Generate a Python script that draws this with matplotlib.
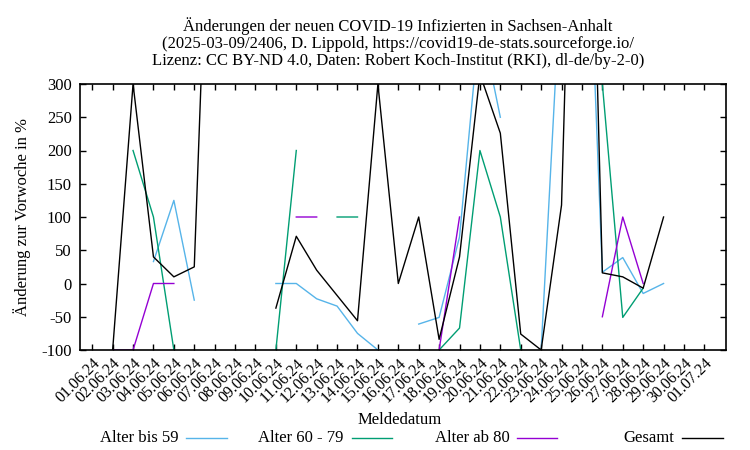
import numpy as np
import pandas as pd
import matplotlib
matplotlib.use("Agg")
import matplotlib.pyplot as plt
from matplotlib.lines import Line2D

plt.rcParams['font.family'] = ['Liberation Serif', 'DejaVu Serif']
plt.rcParams['font.size'] = 12
plt.rcParams['axes.unicode_minus'] = False

nan = np.nan

# Meldedatum 01.06.24 .. 01.07.24
dates = pd.date_range("2024-06-01", "2024-07-01", freq="D")
date_labels = [d.strftime("%d.%m.%y") for d in dates]

# Aenderung zur Vorwoche in %, per Meldedatum
alter_bis_59 = [nan, nan, nan, 33, 125, -25, nan, nan, nan, 0,
                0, -23, -34, -75, -100, nan, -61, -51, 70, 400,
                250, nan, -100, 480, 800, 17, 39, -15, 0, nan, nan]
alter_60_79 = [nan, nan, 200, 100, -100, nan, nan, nan, nan, -100,
               200, nan, 100, 100, nan, nan, nan, -100, -67, 200,
               100, -100, nan, nan, nan, 300, -51, -7, nan, nan, nan]
alter_ab_80 = [nan, -100, -100, 0, 0, nan, nan, nan, nan, nan,
               100, 100, nan, nan, nan, nan, nan, -100, 100, nan,
               nan, nan, nan, nan, nan, -50, 100, 0, nan, nan, nan]
gesamt = [nan, -100, 300, 40, 10, 25, 866, nan, nan, -37,
          71, 20, -18, -56, 300, 0, 100, -84, 40, 315,
          226, -76, -100, 118, 1200, 16, 10, -7, 100, nan, nan]

series = [
    ("Alter bis 59", alter_bis_59, "#56b4e9"),
    ("Alter 60 - 79", alter_60_79, "#009e73"),
    ("Alter ab 80", alter_ab_80, "#9400d3"),
    ("Gesamt", gesamt, "black"),
]

title = ("Änderungen der neuen COVID-19 Infizierten in Sachsen-Anhalt\n"
         "(2025-03-09/2406, D. Lippold, https://covid19-de-stats.sourceforge.io/\n"
         "Lizenz: CC BY-ND 4.0, Daten: Robert Koch-Institut (RKI), dl-de/by-2-0)")

fig = plt.figure(figsize=(7.5, 4.5), dpi=100)
ax = fig.add_axes([80 / 750, 1 - 350 / 450, 646 / 750, 266 / 450])

x = np.arange(len(dates))
handles = []
for name, vals, col in series:
    ln, = ax.plot(x, vals, color=col, lw=1.0, label=name)
    handles.append(ln)

ax.set_xlim(-0.6, 31.06)
ax.set_ylim(-100, 300)
ax.set_yticks(np.arange(-100, 301, 50))
ax.set_xticks(x)
ax.set_xticklabels(date_labels, rotation=45, ha='right', va='top',
                   rotation_mode='anchor')
ax.tick_params(direction='in', length=4, width=1.0, top=True, right=True,
               pad=6)
ax.tick_params(axis='x', pad=4, labelsize=11.5)
for sp in ax.spines.values():
    sp.set_linewidth(1.2)

ax.set_ylabel("Änderung zur Vorwoche in %", labelpad=7)
fig.text(0.533, 1 - 420 / 450, "Meldedatum", ha='center', va='center')
fig.text(398 / 750, 1 - 43 / 450, title, ha='center', va='center',
         linespacing=1.05)

# legend: one row, text right aligned before the line sample
text_end = [178, 343, 510, 674]
line_pos = [(186, 227), (352, 392), (517, 557), (682, 723)]
ly = 1 - 438 / 450
for h, te, (l0, l1) in zip(handles, text_end, line_pos):
    fig.text(te / 750, ly, h.get_label(), ha='right', va='center')
    fig.add_artist(Line2D([l0 / 750, l1 / 750], [ly, ly],
                          color=h.get_color(), lw=1.0,
                          transform=fig.transFigure))

fig.savefig("out.png", dpi=100)
